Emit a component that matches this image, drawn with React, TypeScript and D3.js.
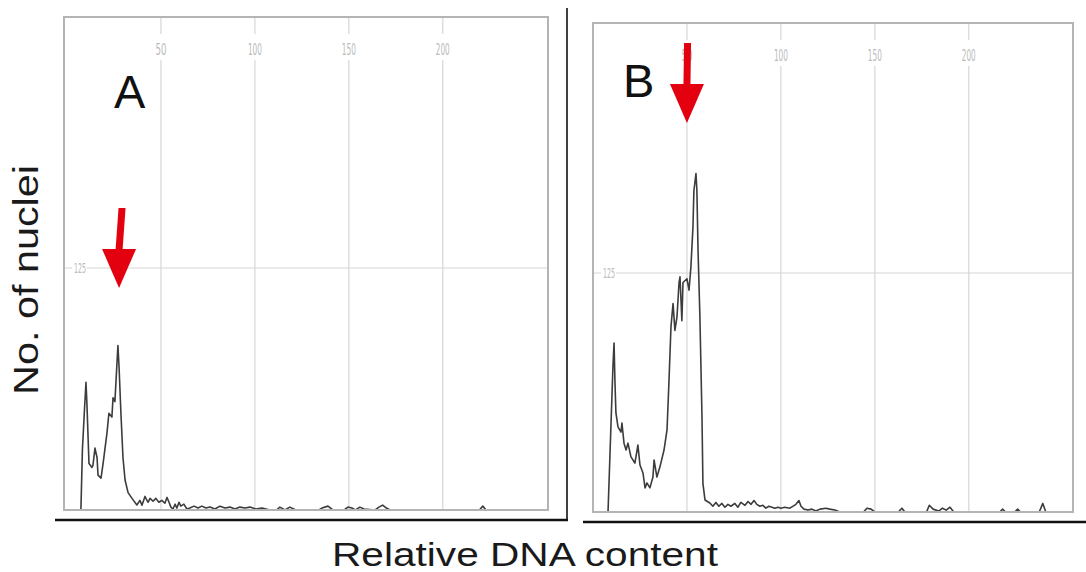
import React from "react";
import * as d3 from "d3";

// ---- data (channel, count) ----
const histA: [number, number][] = [
  [0, 0], [7.4, 0], [8.2, 31], [9.2, 50], [10.1, 66], [10.6, 55], [11.7, 24], [13.3, 22],
  [13.8, 23], [14.9, 32], [16.0, 27], [16.5, 18], [18.1, 16.5], [19.2, 24], [21.3, 40],
  [22.3, 50], [23.9, 48], [24.5, 58], [25.5, 56], [26.6, 76], [27.1, 85], [27.7, 74],
  [28.7, 50], [29.8, 27], [30.9, 15.5], [32.5, 9], [34.6, 6], [37.2, 2.6], [38.8, 5],
  [39.9, 2.5], [41.5, 7], [43.1, 4], [44.2, 6], [45.8, 4.5], [47.3, 6], [48.9, 4],
  [50.5, 5], [52.1, 3.5], [53.2, 6.5], [54.3, 4], [55.3, 1.5], [56.4, 0.5], [57.5, 3],
  [58.5, 1], [59.6, 4], [60.6, 2], [62.2, 3], [63.8, 0.5], [65.4, 1], [67.6, 2],
  [69.7, 1], [71.8, 2], [73.9, 1], [76.1, 1.5], [78.7, 0.5], [81.4, 2], [84.1, 1],
  [86.7, 1.5], [89.4, 0.5], [92, 1.5], [94.7, 1], [97.4, 1.5], [100.5, 0.5], [103.7, 1],
  [108, 0], [111.5, 0], [113.3, 1.5], [116, 0], [118.6, 1.5], [121.8, 0], [134, 0],
  [135.7, 1], [138.9, 2], [141.5, 0], [147.5, 0], [149.5, 1.5], [151.6, 1], [153.5, 0],
  [155.9, 1.5], [158, 0.5], [164, 0], [166, 1.5], [168, 2.5], [170, 1], [172, 0],
  [219.5, 0], [221.3, 2], [223, 0], [256, 0],
];

const histB: [number, number][] = [
  [0, 0], [8.0, 0], [9.6, 46.5], [10.6, 75.8], [11.2, 88.4], [11.7, 67.5], [12.2, 51.8],
  [13.3, 44.5], [14.9, 41.8], [15.4, 46.5], [16.5, 36], [17.6, 32.4], [18.6, 36],
  [20.2, 28.8], [22.3, 25.6], [23.9, 35], [25.0, 24.6], [26.6, 20.4], [27.7, 12.6],
  [28.7, 15.2], [30.3, 12.6], [31.9, 18.3], [32.5, 27.2], [34.0, 18.3], [35.6, 23.5],
  [37.8, 32.4], [39.4, 42.9], [40.4, 67.5], [41.5, 96.8], [42.6, 109], [43.6, 95],
  [44.7, 102], [45.8, 120], [46.3, 123], [47.3, 100], [47.9, 120], [50.0, 122],
  [51.1, 116], [52.1, 128], [53.2, 149], [53.7, 168], [54.8, 177], [55.3, 168],
  [55.9, 137], [56.9, 102], [58.0, 50], [58.5, 15], [59.6, 6.3], [62.2, 4.7],
  [63.8, 3], [65.4, 5], [67, 3], [68.6, 4.5], [70.2, 2.5], [71.8, 4], [73.4, 3],
  [75.5, 4.5], [77.1, 2.5], [78.7, 5], [80.9, 3.5], [82.5, 5.5], [84.1, 4], [85.7, 6],
  [87.2, 4], [88.8, 3], [90.4, 3.5], [92.0, 2], [93.6, 3], [95.2, 2.5], [96.8, 2],
  [98.5, 2.5], [100, 2], [102, 2.5], [104.8, 2], [108, 4], [109.6, 6], [110.7, 3],
  [112.3, 1.5], [114.4, 1], [116.5, 1.5], [118.6, 0.5], [120.8, 1.5], [124, 2],
  [126, 1.5], [128.7, 1], [131.4, 0], [144, 0], [145.8, 2], [148, 1.5], [150, 0],
  [162.5, 0], [164.4, 2], [166, 0], [177.5, 0], [179, 3.5], [181, 1.5], [184, 0.5],
  [186, 2], [188, 1], [190, 2.5], [192, 0], [216.5, 0], [218, 1.5], [219.5, 0],
  [224.5, 0], [226, 1.5], [227.5, 0], [237.5, 0], [239.4, 4.5], [241, 0], [256, 0],
];

const xTicks = [50, 100, 150, 200];
const xTickLabels = ["50", "100", "150", "200"];
const yTicks = [125];
const yTickLabels = ["125"];
const panelLetters = ["A", "B"];
// arrow tips (channel, count) marking the G1 peaks
const arrowTips: [number, number][] = [[27.7, 114.7], [50, 203.5]];

const domainMax = 256;

// ---- layout ----
const panels = [
  {
    data: histA,
    xRange: [67, 548],
    yRange: [510, 14.4],
    frame: { x0: 64, x1: 548, y0: 17, y1: 510 },
    letter: { x: 114, y: 108 },
    arrowSlant: 1.5,
  },
  {
    data: histB,
    xRange: [593, 1074],
    yRange: [512, 22.5],
    frame: { x0: 593, x1: 1073, y0: 23, y1: 512 },
    letter: { x: 623, y: 97 },
    arrowSlant: 0.3,
  },
];

const RED = "#e3000f";

function Panel({ p, i }: { p: (typeof panels)[number]; i: number }) {
  const x = d3.scaleLinear().domain([0, domainMax]).range(p.xRange);
  const y = d3.scaleLinear().domain([0, domainMax]).range(p.yRange);
  const line = d3
    .line<[number, number]>()
    .x((d) => x(d[0]))
    .y((d) => y(d[1]));
  const f = p.frame;
  const tip = arrowTips[i];
  const tx = x(tip[0]);
  const ty = y(tip[1]);
  const headH = 39;
  const headW = 34;
  const shaftLen = 80;
  const shaftW = 7;
  const s = p.arrowSlant;
  return (
    <g>
      {/* grid */}
      {xTicks.map((t, k) => (
        <line key={"gx" + k} x1={x(t)} x2={x(t)} y1={f.y0} y2={f.y1} stroke="#d6d6d6" strokeWidth={1.2} />
      ))}
      {yTicks.map((t, k) => (
        <line key={"gy" + k} x1={f.x0} x2={f.x1} y1={y(t)} y2={y(t)} stroke="#d6d6d6" strokeWidth={1.2} />
      ))}
      {/* tick labels with gaps in the grid */}
      {xTicks.map((t, k) => {
        const w = xTickLabels[k].length === 2 ? 11 : 14;
        return (
          <g key={"lx" + k}>
            <rect x={x(t) - w / 2 - 2} y={f.y0 + 17} width={w + 4} height={26} fill="#fff" />
            <text
              x={x(t) - w / 2}
              y={f.y0 + 38}
              fontSize={16}
              fontFamily="'Liberation Sans Narrow', 'DejaVu Sans Condensed', sans-serif"
              fill="#bababa"
              textLength={w}
              lengthAdjust="spacingAndGlyphs"
            >
              {xTickLabels[k]}
            </text>
          </g>
        );
      })}
      {yTicks.map((t, k) => (
        <g key={"ly" + k}>
          <rect x={f.x0 + 8} y={y(t) - 7} width={15} height={14} fill="#fff" />
          <text
            x={f.x0 + 10}
            y={y(t) + 5}
            fontSize={14}
            fontFamily="'Liberation Sans Narrow', 'DejaVu Sans Condensed', sans-serif"
            fill="#bababa"
            textLength={12}
            lengthAdjust="spacingAndGlyphs"
          >
            {yTickLabels[k]}
          </text>
        </g>
      ))}
      {/* histogram trace */}
      <path d={line(p.data) || ""} fill="none" stroke="#3c3c3c" strokeWidth={1.6} strokeLinejoin="round" />
      {/* frame */}
      <rect x={f.x0} y={f.y0} width={f.x1 - f.x0} height={f.y1 - f.y0} fill="none" stroke="#b4b4b4" strokeWidth={2} />
      {/* arrow */}
      <polygon
        points={[
          [tx - shaftW / 2, ty - headH + 1],
          [tx + 2 * s - shaftW / 2, ty - shaftLen],
          [tx + 2 * s + shaftW / 2, ty - shaftLen],
          [tx + shaftW / 2, ty - headH + 1],
        ]
          .map((q) => q.join(","))
          .join(" ")}
        fill={RED}
      />
      <polygon
        points={[
          [tx - headW / 2, ty - headH],
          [tx + headW / 2, ty - headH],
          [tx, ty],
        ]
          .map((q) => q.join(","))
          .join(" ")}
        fill={RED}
      />
      {/* panel letter */}
      <text x={p.letter.x} y={p.letter.y} fontSize={47} fontFamily="'Liberation Sans', Arial, sans-serif" fill="#111">
        {panelLetters[i]}
      </text>
    </g>
  );
}

export default function App() {
  return (
    <svg
      width={1086}
      height={572}
      style={{ position: "absolute", left: 0, top: 0, background: "#fff" }}
    >
      <rect x={0} y={0} width={1086} height={572} fill="#fff" />
      {panels.map((p, i) => (
        <Panel key={i} p={p} i={i} />
      ))}
      {/* black axes */}
      <line x1={567} x2={567} y1={8} y2={521} stroke="#111" strokeWidth={1.6} />
      <line x1={55} x2={568} y1={520} y2={520} stroke="#111" strokeWidth={2.5} />
      <line x1={583} x2={1086} y1={522} y2={522} stroke="#111" strokeWidth={2.5} />
      {/* axis titles */}
      <text
        transform="translate(38,395) rotate(-90)"
        fontSize={35}
        fontFamily="'Liberation Sans', Arial, sans-serif"
        fill="#1a1a1a"
        textLength={230}
        lengthAdjust="spacingAndGlyphs"
      >
        No. of nuclei
      </text>
      <text
        x={332}
        y={566}
        fontSize={34}
        fontFamily="'Liberation Sans', Arial, sans-serif"
        fill="#1a1a1a"
        textLength={386}
        lengthAdjust="spacingAndGlyphs"
      >
        Relative DNA content
      </text>
    </svg>
  );
}
